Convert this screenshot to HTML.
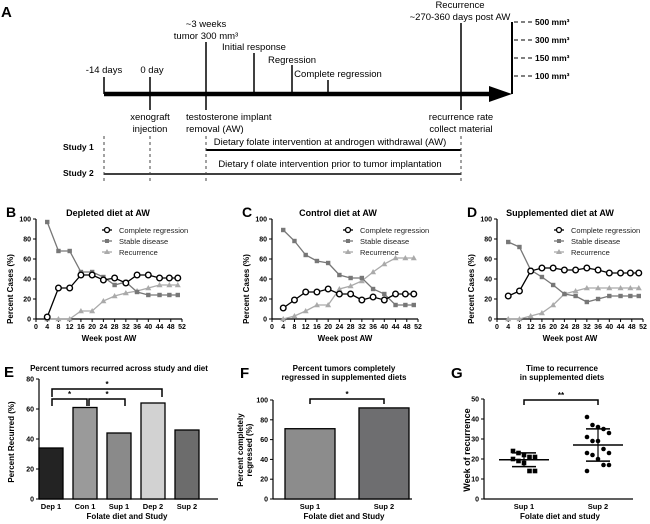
<!DOCTYPE html>
<html><head><meta charset="utf-8"><style>
body{margin:0;background:#fff;}
svg{display:block;font-family:"Liberation Sans",sans-serif;}
.n{font-family:"Liberation Sans Narrow","Liberation Sans",sans-serif;font-size:9.5px;}
.b{font-weight:bold;}
</style></head><body>
<svg id="fig" width="650" height="524" viewBox="0 0 650 524">
<!-- Panel A -->
<g>
<text x="1" y="17" font-size="15" font-weight="bold">A</text>
<line x1="104" y1="94" x2="492" y2="94" stroke="#000" stroke-width="4.5"/>
<polygon points="489,86 512,94 489,102" fill="#000"/>
<line x1="512" y1="22" x2="512" y2="94" stroke="#000" stroke-width="2"/>
<g stroke="#000" stroke-width="1.5">
<line x1="104" y1="77" x2="104" y2="94"/><line x1="150" y1="77" x2="150" y2="110"/>
<line x1="206" y1="42" x2="206" y2="110"/><line x1="254" y1="53" x2="254" y2="94"/>
<line x1="292" y1="65" x2="292" y2="94"/><line x1="328" y1="80" x2="328" y2="94"/>
<line x1="461" y1="23" x2="461" y2="110"/>
</g>
<g class="n">
<text x="104" y="73" text-anchor="middle">-14 days</text>
<text x="152" y="73" text-anchor="middle">0 day</text>
<text x="206" y="27" text-anchor="middle">~3 weeks</text>
<text x="206" y="39" text-anchor="middle">tumor 300 mm³</text>
<text x="254" y="50" text-anchor="middle">Initial  response</text>
<text x="292" y="63" text-anchor="middle">Regression</text>
<text x="338" y="77" text-anchor="middle">Complete  regression</text>
<text x="460" y="8" text-anchor="middle">Recurrence</text>
<text x="460" y="20" text-anchor="middle">~270-360 days post AW</text>
<text x="150" y="120" text-anchor="middle">xenograft</text>
<text x="150" y="132" text-anchor="middle">injection</text>
<text x="186" y="120">testosterone implant</text>
<text x="186" y="132">removal (AW)</text>
<text x="461" y="120" text-anchor="middle">recurrence rate</text>
<text x="461" y="132" text-anchor="middle">collect material</text>
<text x="330" y="145" text-anchor="middle">Dietary  folate intervention at androgen withdrawal (AW)</text>
<text x="330" y="167" text-anchor="middle">Dietary f olate intervention prior to tumor implantation</text>
</g>
<g font-size="8.5" font-weight="bold">
<g stroke="#000" stroke-width="1" stroke-dasharray="4,3">
<line x1="514" y1="22" x2="532" y2="22"/><line x1="514" y1="40" x2="532" y2="40"/>
<line x1="514" y1="58" x2="532" y2="58"/><line x1="514" y1="76" x2="532" y2="76"/>
</g>
<text x="535" y="25">500 mm³</text><text x="535" y="43">300 mm³</text>
<text x="535" y="61">150 mm³</text><text x="535" y="79">100 mm³</text>
<text x="63" y="150">Study 1</text>
<text x="63" y="176">Study 2</text>
</g>
<line x1="206" y1="150" x2="461" y2="150" stroke="#000" stroke-width="2"/>
<line x1="104" y1="174" x2="461" y2="174" stroke="#000" stroke-width="1.5"/>
<g stroke="#444" stroke-width="1" stroke-dasharray="3,3">
<line x1="104" y1="136" x2="104" y2="184"/><line x1="150" y1="136" x2="150" y2="184"/>
<line x1="206" y1="136" x2="206" y2="184"/><line x1="461" y1="136" x2="461" y2="184"/>
</g>
</g>
<g id="lines"></g>
<g id="bars"></g>
</svg>
<script>
const weeks=[4,8,12,16,20,24,28,32,36,40,44,47.5,50.5];
const bComplete=[2,31,31,44,44,39,41,36,44,44,41,41,41];
const bStable=[97,68,68,47,47,42,34,37,27,24,24,24,24];
const bRecur=[0,0,0,8,8,18,23,26,28,31,34,34,34];
const cComplete=[11,19,27,27,30,25,25,19,22,19,25,25,25];
const cStable=[89,78,64,58,56,44,41,41,30,25,14,14,14];
const cRecur=[0,3,8,14,14,30,33,38,47,55,61,61,61];
const dComplete=[23,28,48,51,51,49,49,51,49,46,46,46,46];
const dStable=[77,72,49,42,34,25,23,17,20,23,23,23,23];
const dRecur=[0,0,3,6,14,25,28,31,31,31,31,31,31];
const xTicks=[0,4,8,12,16,20,24,28,32,36,40,44,48,52];
const yTicksLine=[0,20,40,60,80,100];
const eCats=["Dep 1","Con 1","Sup 1","Dep 2","Sup 2"];
const eVals=[34,61,44,64,46];
const eTicks=[0,20,40,60,80];
const fCats=["Sup 1","Sup 2"];
const fVals=[71,92];
const fTicks=[0,20,40,60,80,100];
const gCats=["Sup 1","Sup 2"];
const gSup1=[24,23,22,21,21,20,19,18,14,14];
const gSup2=[41,37,36,35,33,31,29,29,25,23,23,22,20,17,17,14];
const gTicks=[0,10,20,30,40,50];

const NS="http://www.w3.org/2000/svg";
function el(p,t,a,txt){const e=document.createElementNS(NS,t);for(const k in a)e.setAttribute(k,a[k]);if(txt!==undefined)e.textContent=txt;p.appendChild(e);return e;}

const L=document.getElementById('lines');
function lineChart(letter,title,x0,x1,titleX,cmp,stb,rec,legX){
  const g=el(L,'g',{});
  
  
  const y0=319,y1=219;
  const sx=v=>x0+(x1-x0)*v/52, sy=v=>y0-(y0-y1)*v/100;
  el(g,'text',{x:x0-30,y:217,'font-size':14,'font-weight':'bold'},letter);
  const tt=el(g,'text',{x:titleX,y:216,'font-size':9,'font-weight':'bold','text-anchor':'middle'},title);
  
  
  el(g,'line',{x1:x0,y1:y1,x2:x0,y2:y0,stroke:'#000','stroke-width':1.2});
  el(g,'line',{x1:x0,y1:y0,x2:x1,y2:y0,stroke:'#000','stroke-width':1.2});
  yTicksLine.forEach(v=>{el(g,'line',{x1:x0-3,y1:sy(v),x2:x0,y2:sy(v),stroke:'#000'});
    el(g,'text',{x:x0-5,y:sy(v)+2.5,'font-size':7,'font-weight':'bold','text-anchor':'end'},v);});
  xTicks.forEach(v=>{el(g,'line',{x1:sx(v),y1:y0,x2:sx(v),y2:y0+3,stroke:'#000'});
    el(g,'text',{x:sx(v),y:y0+10,'font-size':7,'font-weight':'bold','text-anchor':'middle'},v);});
  const xt=el(g,'text',{x:(x0+x1)/2,y:341,'font-size':8,'font-weight':'bold','text-anchor':'middle'},'Week post AW');
  
  
  const yt=el(g,'text',{x:0,y:0,'font-size':8,'font-weight':'bold','text-anchor':'middle',transform:`translate(${x0-23},${(y0+y1)/2+20}) rotate(-90)`},'Percent Cases (%)');
  
  
  const series=[[rec,'#aaa','tri'],[stb,'#777','sq'],[cmp,'#000','circ']];
  series.forEach(([vals,col,m])=>{
    const pts=weeks.map((w,i)=>sx(w)+','+sy(vals[i])).join(' ');
    const pl=el(g,'polyline',{points:pts,fill:'none',stroke:col,'stroke-width':1.3});
    
    
    weeks.forEach((w,i)=>{const x=sx(w),y=sy(vals[i]);
      if(m==='circ')el(g,'circle',{cx:x,cy:y,r:2.8,fill:'#fff',stroke:'#000','stroke-width':1.4});
      else if(m==='sq')el(g,'rect',{x:x-2.2,y:y-2.2,width:4.4,height:4.4,fill:col});
      else el(g,'polygon',{points:`${x},${y-3} ${x-3},${y+2.2} ${x+3},${y+2.2}`,fill:col});});
  });
  const leg=[['Complete regression','#000','circ'],['Stable disease','#777','sq'],['Recurrence','#aaa','tri']];
  leg.forEach(([t,col,m],i)=>{const y=230+i*11;const lg=el(g,'g',{});
    
    
    el(lg,'line',{x1:legX,y1:y,x2:legX+10,y2:y,stroke:col,'stroke-width':1.3});
    const x=legX+5;
    if(m==='circ')el(lg,'circle',{cx:x,cy:y,r:2.5,fill:'#fff',stroke:'#000','stroke-width':1.3});
    else if(m==='sq')el(lg,'rect',{x:x-2,y:y-2,width:4,height:4,fill:col});
    else el(lg,'polygon',{points:`${x},${y-3} ${x-3},${y+2} ${x+3},${y+2}`,fill:col});
    el(lg,'text',{x:legX+17,y:y+3,'font-size':7.5,fill:'#222'},t);});
}
lineChart('B','Depleted diet at AW',36,182,108,bComplete,bStable,bRecur,102);
lineChart('C','Control diet at AW',272,418,338,cComplete,cStable,cRecur,343);
lineChart('D','Supplemented diet at AW',497,643,560,dComplete,dStable,dRecur,554);

const B=document.getElementById('bars');
function axesY(g,x0,y0,y1,ticks,max){const sy=v=>y0-(y0-y1)*v/max;
  el(g,'line',{x1:x0,y1:y1,x2:x0,y2:y0,stroke:'#000','stroke-width':1.2});
  ticks.forEach(v=>{el(g,'line',{x1:x0-3,y1:sy(v),x2:x0,y2:sy(v),stroke:'#000'});
    el(g,'text',{x:x0-5,y:sy(v)+2.5,'font-size':7,'font-weight':'bold','text-anchor':'end'},v);});
  return sy;}
function bracket(g,xa,xb,y,h,star){el(g,'polyline',{points:`${xa},${y+h} ${xa},${y} ${xb},${y} ${xb},${y+h}`,fill:'none',stroke:'#000','stroke-width':1.5});
  el(g,'text',{x:(xa+xb)/2,y:y-2,'font-size':8,'font-weight':'bold','text-anchor':'middle'},star);}
// E
(function(){const g=el(B,'g',{});
 
 
 el(g,'text',{x:4,y:377,'font-size':15,'font-weight':'bold'},'E');
 el(g,'text',{x:119,y:371,'font-size':8,'font-weight':'bold','text-anchor':'middle'},'Percent tumors recurred across study and diet');
 const x0=39,y0=499;const sy=axesY(g,x0,y0,379,eTicks,80);
 el(g,'line',{x1:x0,y1:y0,x2:218,y2:y0,stroke:'#000','stroke-width':1.2});
 const cols=['#232323','#9a9a9a','#8a8a8a','#d2d2d2','#6c6c6c'];
 eCats.forEach((c,i)=>{const cx=51+i*34;
  const r=el(g,'rect',{x:cx-12,y:sy(eVals[i]),width:24,height:y0-sy(eVals[i]),fill:cols[i],stroke:'#000','stroke-width':1.3});
  
  
  el(g,'text',{x:cx,y:509,'font-size':7.5,'font-weight':'bold','text-anchor':'middle'},c);});
 el(g,'text',{x:127,y:519,'font-size':8,'font-weight':'bold','text-anchor':'middle'},'Folate diet and Study');
 el(g,'text',{x:0,y:0,'font-size':8,'font-weight':'bold','text-anchor':'middle',transform:'translate(14,442) rotate(-90)'},'Percent Recurred (%)');
 bracket(g,52,162,389,8,'*');bracket(g,52,87,399,7,'*');bracket(g,89,125,399,7,'*');
})();
// F
(function(){const g=el(B,'g',{});
 
 
 el(g,'text',{x:240,y:378,'font-size':15,'font-weight':'bold'},'F');
 el(g,'text',{x:344,y:371,'font-size':8,'font-weight':'bold','text-anchor':'middle'},'Percent tumors completely');
 el(g,'text',{x:344,y:380,'font-size':8,'font-weight':'bold','text-anchor':'middle'},'regressed in supplemented diets');
 const x0=273,y0=499;const sy=axesY(g,x0,y0,400,fTicks,100);
 el(g,'line',{x1:x0,y1:y0,x2:412,y2:y0,stroke:'#000','stroke-width':1.2});
 const cols=['#8c8c8c','#6e6e70'];
 fCats.forEach((c,i)=>{const cx=310+i*74;
  const r=el(g,'rect',{x:cx-25,y:sy(fVals[i]),width:50,height:y0-sy(fVals[i]),fill:cols[i],stroke:'#000','stroke-width':1.3});
  
  
  el(g,'text',{x:cx,y:509,'font-size':7.5,'font-weight':'bold','text-anchor':'middle'},c);});
 el(g,'text',{x:344,y:519,'font-size':8,'font-weight':'bold','text-anchor':'middle'},'Folate diet and Study');
 el(g,'text',{x:0,y:0,'font-size':8,'font-weight':'bold','text-anchor':'middle',transform:'translate(243,450) rotate(-90)'},'Percent completely');
 el(g,'text',{x:0,y:0,'font-size':8,'font-weight':'bold','text-anchor':'middle',transform:'translate(252,450) rotate(-90)'},'regressed (%)');
 bracket(g,310,384,399,5,'*');
})();
// G
(function(){const g=el(B,'g',{});
 
 
 el(g,'text',{x:451,y:378,'font-size':15,'font-weight':'bold'},'G');
 el(g,'text',{x:562,y:371,'font-size':8,'font-weight':'bold','text-anchor':'middle'},'Time to recurrence');
 el(g,'text',{x:562,y:380,'font-size':8,'font-weight':'bold','text-anchor':'middle'},'in supplemented diets');
 const x0=484,y0=499;const sy=axesY(g,x0,y0,399,gTicks,50);
 el(g,'line',{x1:x0,y1:y0,x2:633,y2:y0,stroke:'#000','stroke-width':1.2});
 [gSup1,gSup2].forEach((arr,k)=>{const cx=524+k*74;
  arr.forEach((v,i)=>{const x=cx+((i%5)-2)*5.5;
   if(k===0)el(g,'rect',{x:x-2.3,y:sy(v)-2.3,width:4.6,height:4.6,fill:'#000'});
   else el(g,'circle',{cx:x,cy:sy(v),r:2.3,fill:'#000'});});
  const m=arr.reduce((a,b)=>a+b,0)/arr.length;
  const sd=Math.sqrt(arr.reduce((a,b)=>a+(b-m)*(b-m),0)/(arr.length-1));
  el(g,'line',{x1:cx-25,y1:sy(m),x2:cx+25,y2:sy(m),stroke:'#000','stroke-width':1.5});
  el(g,'line',{x1:cx-12,y1:sy(m+sd),x2:cx+12,y2:sy(m+sd),stroke:'#000','stroke-width':1.5});
  el(g,'line',{x1:cx-12,y1:sy(m-sd),x2:cx+12,y2:sy(m-sd),stroke:'#000','stroke-width':1.5});
  el(g,'line',{x1:cx,y1:sy(m+sd),x2:cx,y2:sy(m-sd),stroke:'#000','stroke-width':1.2});
  el(g,'text',{x:cx,y:509,'font-size':7.5,'font-weight':'bold','text-anchor':'middle'},gCats[k]);});
 el(g,'text',{x:560,y:519,'font-size':8,'font-weight':'bold','text-anchor':'middle'},'Folate diet and study');
 el(g,'text',{x:0,y:0,'font-size':9,'font-weight':'bold','text-anchor':'middle',transform:'translate(470,450) rotate(-90)'},'Week of  recurrence');
 bracket(g,524,598,400,5,'**');
})();
</script>
</body></html>
